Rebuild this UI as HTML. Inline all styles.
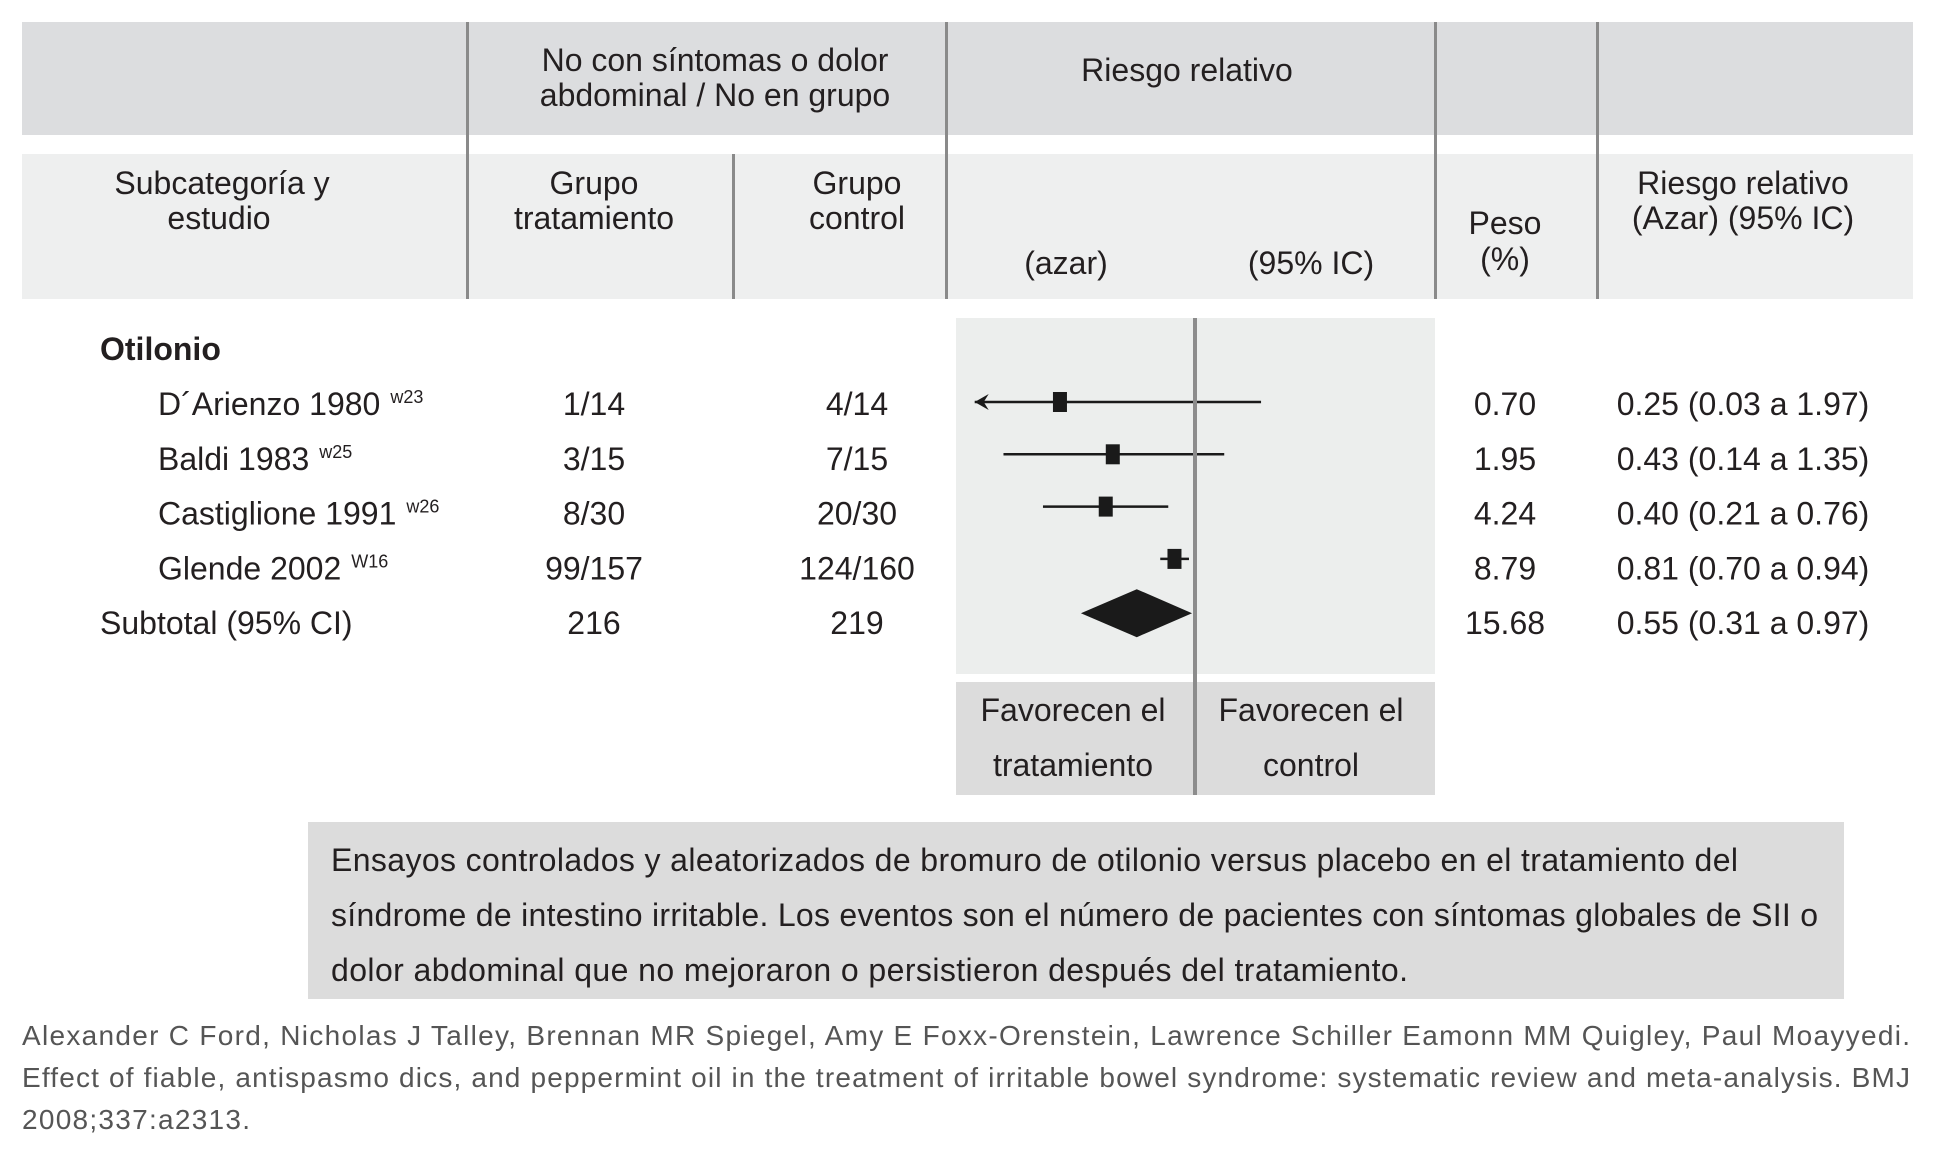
<!DOCTYPE html>
<html><head><meta charset="utf-8"><style>
html,body{margin:0;padding:0;background:#fff;}
svg{display:block;}
text{font-family:"Liberation Sans",sans-serif;fill:#231f20;font-size:32px;}
</style></head><body>
<svg id="chart" width="1950" height="1154" viewBox="0 0 1950 1154" xmlns="http://www.w3.org/2000/svg">
<g>
<rect x="22" y="22" width="1891" height="113" fill="#dcdddf"/>
<rect x="22" y="154" width="1891" height="145" fill="#eeefef"/>
<rect x="466" y="22" width="3" height="277" fill="#8a8a8a"/>
<rect x="732" y="154" width="3" height="145" fill="#8a8a8a"/>
<rect x="945" y="22" width="3" height="277" fill="#8a8a8a"/>
<rect x="1434" y="22" width="3" height="277" fill="#8a8a8a"/>
<rect x="1596" y="22" width="3" height="277" fill="#8a8a8a"/>
<g text-anchor="middle">
<text x="715" y="71">No con síntomas o dolor</text>
<text x="715" y="106">abdominal / No en grupo</text>
<text x="1187" y="81">Riesgo relativo</text>
<text x="222" y="194">Subcategoría y</text>
<text x="219" y="229">estudio</text>
<text x="594" y="194">Grupo</text>
<text x="594" y="229">tratamiento</text>
<text x="857" y="194">Grupo</text>
<text x="857" y="229">control</text>
<text x="1066" y="274">(azar)</text>
<text x="1311" y="274">(95% IC)</text>
<text x="1505" y="234">Peso</text>
<text x="1505" y="270">(%)</text>
<text x="1743" y="194">Riesgo relativo</text>
<text x="1743" y="229">(Azar) (95% IC)</text>
</g>
</g>
<rect x="956" y="318" width="479" height="356" fill="#eceeed"/>
<rect x="956" y="682" width="479" height="113" fill="#dcdcdc"/>
<g id="rows"></g>
<g id="marks"></g>
<rect x="1193" y="318" width="4" height="477" fill="#8c8c8c"/>
<g text-anchor="middle">
<text x="1073" y="721">Favorecen el</text>
<text x="1073" y="776">tratamiento</text>
<text x="1311" y="721">Favorecen el</text>
<text x="1311" y="776">control</text>
</g>
<rect x="308" y="822" width="1536" height="177" fill="#dcdcdc"/>
<text x="331" y="871" textLength="1407">Ensayos controlados y aleatorizados de bromuro de otilonio versus placebo en el tratamiento del</text>
<text x="331" y="926" textLength="1487">síndrome de intestino irritable. Los eventos son el número de pacientes con síntomas globales de SII o</text>
<text x="331" y="981" textLength="1077">dolor abdominal que no mejoraron o persistieron después del tratamiento.</text>
<g style="fill:#555">
<text x="22" y="1045" textLength="1888" style="fill:#555;font-size:28px">Alexander C Ford, Nicholas J Talley, Brennan MR Spiegel, Amy E Foxx-Orenstein, Lawrence Schiller Eamonn MM Quigley, Paul Moayyedi.</text>
<text x="22" y="1087" textLength="1888" style="fill:#555;font-size:28px">Effect of fiable, antispasmo dics, and peppermint oil in the treatment of irritable bowel syndrome: systematic review and meta-analysis. BMJ</text>
<text x="22" y="1129" textLength="228" style="fill:#555;font-size:28px">2008;337:a2313.</text>
</g>
</svg>
<script>
const studies=["D´Arienzo 1980","Baldi 1983","Castiglione 1991","Glende 2002"];
const refs=["w23","w25","w26","W16"];
const treat=["1/14","3/15","8/30","99/157"];
const control=["4/14","7/15","20/30","124/160"];
const weights=["0.70","1.95","4.24","8.79"];
const rr=[0.25,0.43,0.40,0.81];
const lo=[0.03,0.14,0.21,0.70];
const hi=[1.97,1.35,0.76,0.94];
const subtotal={treat:"216",control:"219",weight:"15.68",rr:0.55,lo:0.31,hi:0.97};

const NS="http://www.w3.org/2000/svg";
const xScale=v=>1195+224.3*Math.log10(v);
const xMinVal=0.1;
const markY=i=>402+52.3*i;
const textY=i=>405+54.8*i;
const rowsG=document.getElementById('rows');
const marksG=document.getElementById('marks');
function mk(tag,attrs,parent){const e=document.createElementNS(NS,tag);for(const k in attrs)e.setAttribute(k,attrs[k]);parent.appendChild(e);return e;}
function txt(str,x,y,anchor,parent){const t=mk('text',{x:x,y:y,'text-anchor':anchor},parent);t.textContent=str;return t;}
const fmt=v=>v.toFixed(2);

let t=txt("Otilonio",100,360,'start',rowsG);


t.setAttribute('font-weight','bold');

studies.forEach((s,i)=>{
  const by=textY(i)+10;
  const n=txt(s,158,by,'start',rowsG);
  
  
  const ts=mk('tspan',{dx:'10',dy:'-12','font-size':'18'},n);ts.textContent=refs[i];
  let a=txt(treat[i],594,by,'middle',rowsG);
  
  
  let b=txt(control[i],857,by,'middle',rowsG);
  
  
  let w=txt(weights[i],1505,by,'middle',rowsG);
  
  
  let r=txt(fmt(rr[i])+" ("+fmt(lo[i])+" a "+fmt(hi[i])+")",1743,by,'middle',rowsG);
  
  

  const y=markY(i);
  const clipped=lo[i]<xMinVal;
  const x1=clipped?xScale(xMinVal)+4:xScale(lo[i]);
  const x2=xScale(hi[i]);
  const ln=mk('line',{x1:x1,x2:x2,y1:y,y2:y,stroke:'#1a1a1a','stroke-width':2.5},marksG);
  
  
  if(clipped){
    const ar=mk('path',{d:`M${x1} ${y} L${x1+14} ${y-8} L${x1+9} ${y} L${x1+14} ${y+8} Z`,fill:'#1a1a1a'},marksG);
    
    
  }
  const bx=mk('rect',{x:xScale(rr[i])-7,y:y-10,width:14,height:20,fill:'#1a1a1a'},marksG);
  
  
});

const sy=textY(4)+10;
let s1=txt("Subtotal (95% CI)",100,sy,'start',rowsG);


let s2=txt(subtotal.treat,594,sy,'middle',rowsG);


let s3=txt(subtotal.control,857,sy,'middle',rowsG);


let s4=txt(subtotal.weight,1505,sy,'middle',rowsG);


let s5=txt(fmt(subtotal.rr)+" ("+fmt(subtotal.lo)+" a "+fmt(subtotal.hi)+")",1743,sy,'middle',rowsG);



const dy=markY(4)+2;
const dl=xScale(subtotal.lo),dc=xScale(subtotal.rr),dr=xScale(subtotal.hi);
const dm=mk('path',{d:`M${dl} ${dy} L${dc} ${dy-24} L${dr} ${dy} L${dc} ${dy+24} Z`,fill:'#1a1a1a'},marksG);


</script>
</body></html>
